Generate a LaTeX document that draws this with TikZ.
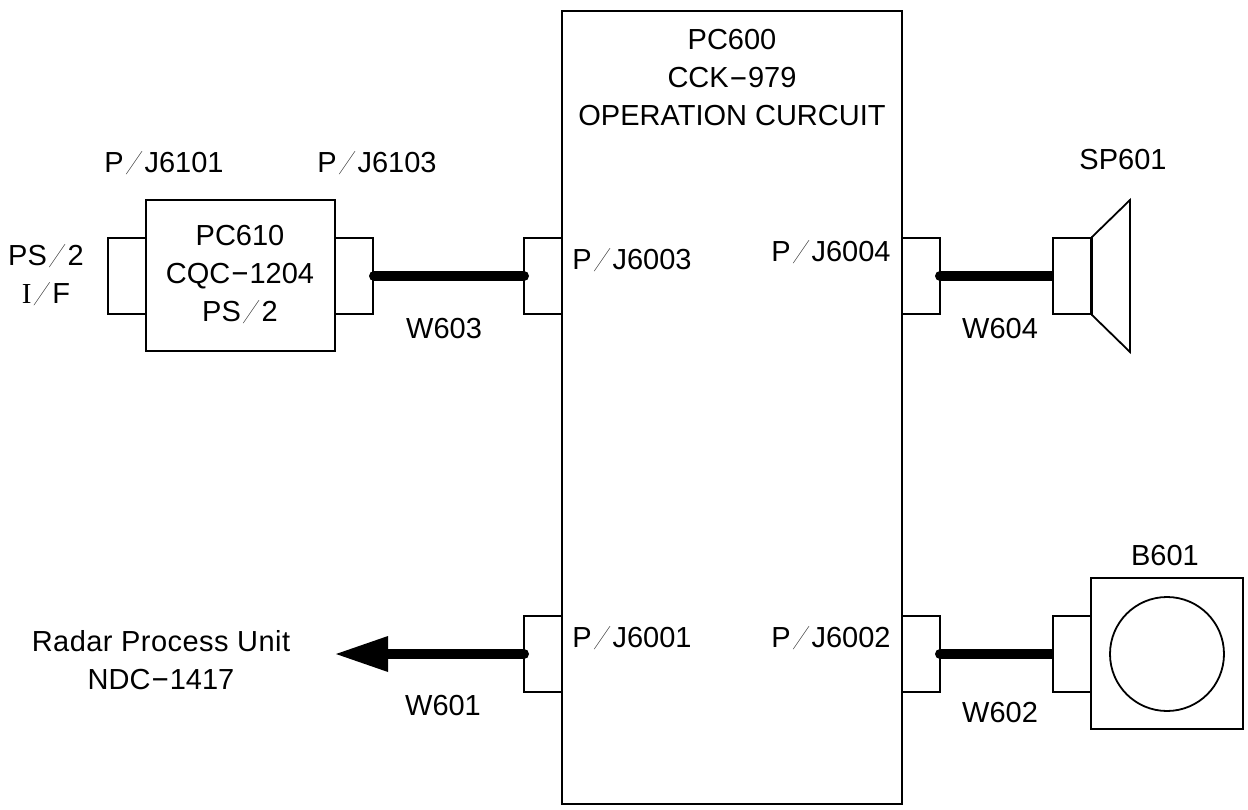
\documentclass[tikz,border=0pt]{standalone}
\usepackage{fontspec}
\setmainfont{Liberation Sans}
\newfontfamily\serfam{Liberation Serif}
\newfontfamily\thinfam{Lato Thin}
\newcommand{\sls}{\raisebox{-1pt}{\scalebox{1.7}[1.05]{\thinfam /}}}
\newcommand{\hyp}{\raisebox{1.5pt}{\scalebox{2}[1]{-}}}
\tikzset{x=1pt,y=-1pt,
 box/.style={draw=black,line width=1.8pt,fill=white,inner sep=0pt},
 conn/.style={box,minimum width=38pt,minimum height=76pt},
 lbl/.style={inner sep=0pt,font=\fontsize{29}{38}\selectfont,align=center},
 wire/.style={line width=10pt,line cap=round,black}}
\begin{document}
\begin{tikzpicture}
\useasboundingbox (0,0) rectangle (1248,809);
\fill[white] (0,0) rectangle (1248,809);
\foreach \n/\x/\y in {a/127/276,b/354/276,c/543/276,d/921/276,f/543/654,g/921/654}{
 \node[conn] (\n) at (\x,\y) {};
}
\node[box,minimum width=340pt,minimum height=793pt] (main) at (732,407.5) {};
\node[box,minimum width=189pt,minimum height=151pt] (pc610) at (240.5,275.5) {};
\coordinate (wa) at (374,276);\coordinate (wb) at (524,276);
\draw[wire] (wa) -- (wb);
\coordinate (wc) at (940,276);\coordinate (wd) at (1060,276);
\draw[wire] (wc) -- (wd);
\coordinate (we) at (940,654);\coordinate (wf) at (1060,654);
\draw[wire] (we) -- (wf);
\coordinate (wg) at (524,654);\coordinate (wh) at (380,654);\coordinate (wi) at (336,654);
\draw[wire] (wg) -- (wh);
\fill (wi) -- (388,636) -- (388,672) -- cycle;
\node[conn] (h) at (1072,276) {};
\node[conn] (i) at (1072,654) {};
\draw[line width=1.8pt,line join=miter] (h.north east) -- (1130,200) -- (1130,352) -- (h.south east) -- cycle;
\node[box,minimum width=152pt,minimum height=151pt] (mot) at (1167,653.5) {};
\node[draw=black,line width=1.8pt,circle,inner sep=0pt,minimum size=114pt] (rot) at (1167,654) {};
\node[lbl] (t1) at (732,78) {PC600\\CCK\hyp 979\\OPERATION CURCUIT};
\node[lbl] (t2) at (164,163) {P\sls J6101};
\node[lbl] (t3) at (377,163) {P\sls J6103};
\node[lbl] (t4) at (46,275) {PS\sls 2\\{\serfam I}\sls F};
\node[lbl] (t5) at (240,274) {PC610\\CQC\hyp 1204\\PS\sls 2};
\node[lbl] (t6) at (632,260) {P\sls J6003};
\node[lbl] (t7) at (831,252) {P\sls J6004};
\node[lbl] (t8) at (632,638) {P\sls J6001};
\node[lbl] (t9) at (831,638) {P\sls J6002};
\node[lbl] (t10) at (444,329) {W603};
\node[lbl] (t11) at (1000,329) {W604};
\node[lbl] (t12) at (443,706) {W601};
\node[lbl] (t13) at (1000,713) {W602};
\node[lbl] (t14) at (1123,160) {SP601};
\node[lbl] (t15) at (1165,556) {B601};
\node[lbl] (t16) at (161,660) {\addfontfeatures{LetterSpace=1.6}Radar Process Unit\\NDC\hyp 1417};
\end{tikzpicture}
\end{document}
